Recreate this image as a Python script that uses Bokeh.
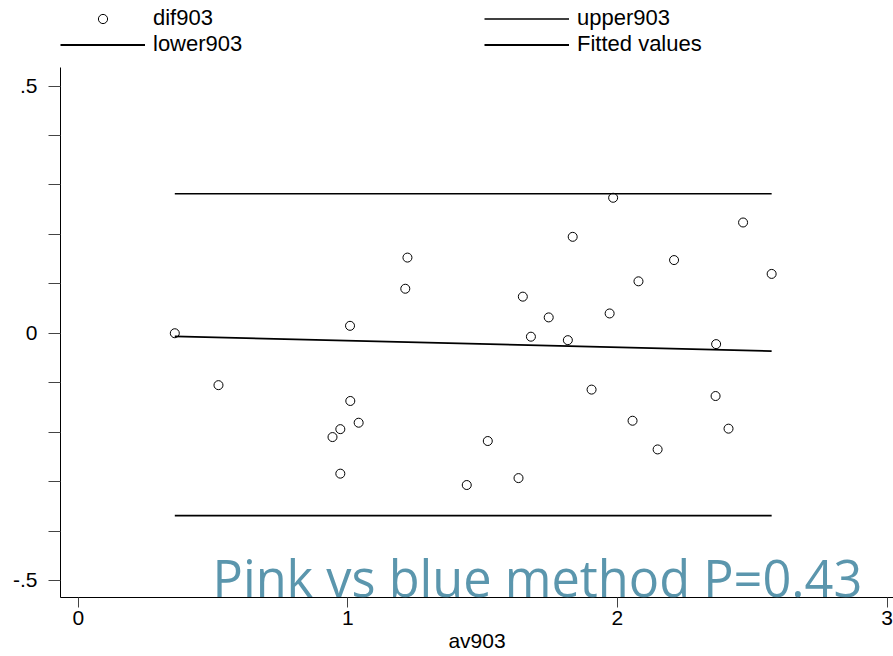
from bokeh.plotting import figure
from bokeh.models import (Range1d, FixedTicker, CustomJSTickFormatter, Legend,
                          LegendItem, Label)
from bokeh.embed import file_html
from bokeh.resources import INLINE

# ---- data ----
av903 = [0.358, 0.520, 1.008, 1.213, 1.221, 1.009, 1.040, 0.972, 0.943, 0.972,
         1.441, 1.519, 1.633, 1.649, 1.745, 1.679, 1.834, 1.816, 1.904, 1.971,
         1.984, 2.078, 2.056, 2.210, 2.149, 2.364, 2.366, 2.412, 2.466, 2.572]
dif903 = [0.000, -0.105, 0.015, 0.090, 0.153, -0.137, -0.181, -0.194, -0.210, -0.284,
          -0.307, -0.218, -0.293, 0.074, 0.032, -0.007, 0.195, -0.014, -0.114, 0.040,
          0.274, 0.105, -0.177, 0.148, -0.235, -0.127, -0.022, -0.193, 0.224, 0.120]
upper903 = 0.282
lower903 = -0.369
fitted_at_ends = [-0.0065, -0.036]   # fitted values at min(av) and max(av)
x_ticks = [0, 1, 2, 3]
y_ticks = [-0.5, -0.4, -0.3, -0.2, -0.1, 0.0, 0.1, 0.2, 0.3, 0.4, 0.5]
annotation = "Pink vs blue method P=0.43"

FONT = "Liberation Sans"
FS = "21px"

ends = [min(av903), max(av903)]
y_axis_lo, y_axis_hi = -0.5345, 0.5375
y_top = 0.673   # room above the plot region for the legend

p = figure(width=893, height=656,
           x_range=Range1d(-0.066, 3.024), y_range=Range1d(y_axis_lo, y_top),
           output_backend="svg", toolbar_location=None,
           min_border_left=60, min_border_right=0, min_border_top=0,
           min_border_bottom=59)
p.outline_line_color = None
p.xgrid.visible = False
p.ygrid.visible = False
p.background_fill_color = "white"
p.border_fill_color = "white"

r_up = p.line(ends, [upper903, upper903], line_color="black", line_width=1.6)
r_low = p.line(ends, [lower903, lower903], line_color="black", line_width=1.8)
r_fit = p.line(ends, fitted_at_ends, line_color="black", line_width=1.8)
r_pts = p.scatter(av903, dif903, marker="circle", size=9, fill_color=None,
                  line_color="black", line_width=1)

# axes
xa = p.xaxis[0]
xa.ticker = FixedTicker(ticks=x_ticks)
xa.major_tick_out = 10
xa.major_tick_in = 0
xa.minor_tick_line_color = None
xa.major_tick_line_color = "#444444"
xa.axis_line_color = "black"
xa.major_label_text_font = FONT
xa.major_label_text_font_size = FS
xa.major_label_text_color = "black"
xa.major_label_standoff = 3
xa.axis_label = "av903"
xa.axis_label_text_font = FONT
xa.axis_label_text_font_size = FS
xa.axis_label_text_font_style = "normal"
xa.axis_label_text_color = "black"
xa.axis_label_standoff = 1

ya = p.yaxis[0]
ya.bounds = (y_axis_lo, y_axis_hi)
ya.ticker = FixedTicker(ticks=y_ticks)
ya.formatter = CustomJSTickFormatter(code="""
  if (Math.abs(tick - 0.5) < 1e-6) return '.5';
  if (Math.abs(tick) < 1e-6) return '0';
  if (Math.abs(tick + 0.5) < 1e-6) return '-.5';
  return '';
""")
ya.major_tick_out = 12
ya.major_tick_in = 0
ya.minor_tick_line_color = None
ya.major_tick_line_color = "#444444"
ya.axis_line_color = "black"
ya.major_label_text_font = FONT
ya.major_label_text_font_size = FS
ya.major_label_text_color = "black"
ya.major_label_standoff = 11

# legends (two columns)
common = dict(glyph_width=85, glyph_height=23, label_standoff=8, spacing=0,
              padding=0, margin=0, border_line_color=None,
              background_fill_alpha=0, label_text_font=FONT,
              label_text_font_size="22px", label_text_color="black")
leg1 = Legend(items=[LegendItem(label="dif903", renderers=[r_pts]),
                     LegendItem(label="lower903", renderers=[r_low])],
              location=(0, 540), **common)
leg2 = Legend(items=[LegendItem(label="upper903", renderers=[r_up]),
                     LegendItem(label="Fitted values", renderers=[r_fit])],
              location=(424, 540), **common)
p.add_layout(leg1)
p.add_layout(leg2)

p.add_layout(Label(x=152, y=20, x_units="screen", y_units="screen",
                   text=annotation, text_font="Open Sans", text_font_size="50.5px",
                   text_color="#5b96ad", text_baseline="alphabetic"))

open("out.html", "w").write(file_html(p, INLINE))
